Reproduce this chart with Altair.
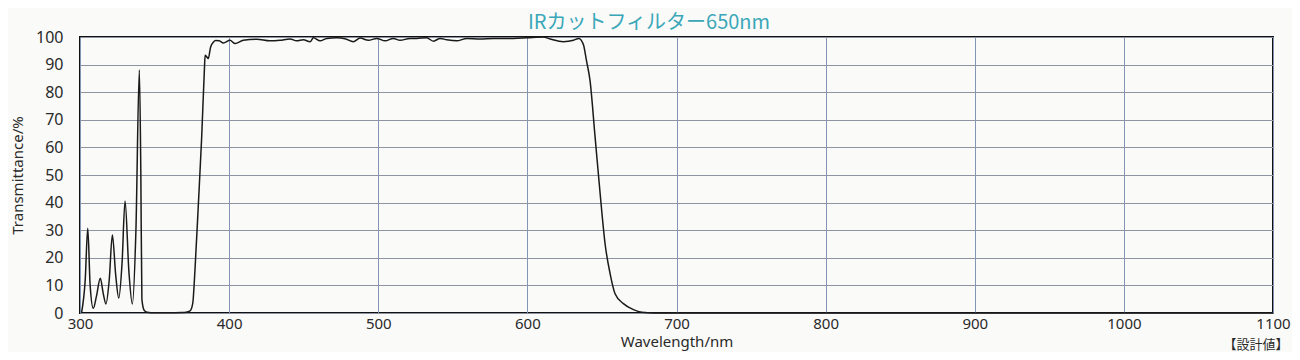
import altair as alt
import pandas as pd

wavelength = [301, 303.5, 305.2, 306.8, 308.9, 311, 313.6, 315.6, 317.4, 319.6, 321.7, 323.9, 326.0,
              328.2, 330.2, 332.8, 335.1, 337.5, 339.8, 340.8, 341.5, 343, 345, 350, 360, 368, 371,
              373.8, 375.6, 377.1, 379.4, 381.6, 383.4, 383.9, 385, 386, 387.6, 389.4, 391, 393.4,
              396.1, 400.6, 404.0, 409.5, 418.5, 427.4, 434.1, 440.8, 445.3, 449.8, 454.3, 456.5,
              461.0, 465.5, 472.2, 477.7, 483.3, 487.8, 493.4, 499.0, 504.6, 510.1, 514.6, 521.3,
              525.8, 532.5, 537.0, 541.5, 545.9, 552.6, 559.4, 568.3, 577.2, 590.6, 599.6, 610.7,
              615.2, 624.1, 630.9, 634.5, 637.6, 639.6, 642, 645.4, 648.8, 652.1, 655.5, 658.8,
              664.4, 671.1, 676.7, 685, 800, 1100]
transmittance = [0, 12, 30.7, 10, 1.7, 6, 12.6, 7, 3.3, 12, 28.3, 14, 5.4,
                 18, 40.6, 15, 3.3, 30, 88, 50, 5, 1, 0.3, 0.1, 0.1, 0.2, 0.3,
                 0.8, 3.5, 15.6, 39.7, 63.8, 88, 93.4, 92.8, 92.2, 96.4, 98.1, 98.7, 98.6,
                 97.8, 98.8, 97.6, 98.8, 99.2, 98.6, 98.8, 99.3, 98.6, 99.0, 98.3, 99.7,
                 98.6, 99.5, 99.7, 99.4, 98.3, 99.6, 98.8, 99.5, 98.6, 99.5, 98.8, 99.5,
                 99.5, 99.7, 98.5, 99.5, 99.0, 98.6, 99.5, 99.3, 99.5, 99.5, 99.7, 100,
                 99.3, 98.3, 98.8, 99.5, 97.2, 91.5, 84.3, 63.8, 43.2, 25.1, 14.2, 7.0,
                 3.4, 1.2, 0.25, 0, 0, 0]

x_ticks = [300, 400, 500, 600, 700, 800, 900, 1000, 1100]
y_ticks = [0, 10, 20, 30, 40, 50, 60, 70, 80, 90, 100]

title_text = "IRカットフィルター650nm"
note_text = "【設計値】"

df = pd.DataFrame({"wl": wavelength, "t": transmittance})

FONT = "Noto Sans"

line = alt.Chart(df).mark_line(color="#1a1a1a", strokeWidth=1.5, interpolate="monotone").encode(
    x=alt.X("wl:Q", scale=alt.Scale(domain=[300, 1100], nice=False, zero=False),
            axis=alt.Axis(values=x_ticks, format="d", title="Wavelength/nm", ticks=False,
                          labelPadding=3, labelFontSize=15, titleFontSize=15,
                          titleFontWeight="normal", titlePadding=3, labelColor="#2a2a2a",
                          titleColor="#2a2a2a", gridColor="#8494b4", gridWidth=1, gridOpacity=1,
                          domain=False, labelFlush=False, labelFont=FONT, titleFont=FONT,
                          labelBound=False)),
    y=alt.Y("t:Q", scale=alt.Scale(domain=[0, 100], nice=False),
            axis=alt.Axis(values=y_ticks, title="Transmittance/%", ticks=False, labelPadding=17,
                          labelFontSize=16, titleFontSize=15, titleFontWeight="normal",
                          titlePadding=10, labelColor="#2a2a2a", titleColor="#2a2a2a",
                          gridColor="#8d93a3", gridWidth=1, gridOpacity=1, domain=False,
                          labelFlush=False, labelFont=FONT, titleFont=FONT)),
)

note = alt.Chart(pd.DataFrame({"txt": [note_text]})).mark_text(
    fontSize=13, font="Noto Sans CJK JP", color="#2a2a2a", align="center", baseline="middle"
).encode(text="txt:N", x=alt.value(1176), y=alt.value(308))

title = alt.Chart(pd.DataFrame({"txt": [title_text]})).mark_text(
    fontSize=20, font="Noto Sans CJK JP", color="#3aa7b8", align="center", baseline="middle"
).encode(text="txt:N", x=alt.value(569), y=alt.value(-14))

chart = alt.layer(line, note, title).properties(
    width=1193, height=276,
    autosize=alt.AutoSizeParams(type="none"),
    padding={"left": 72, "top": 29, "right": 19, "bottom": 39},
    background="#fafaf8",
).configure_view(stroke="#111111", strokeWidth=2)

chart.save("out.html", embed_options={"renderer": "svg", "actions": False})
